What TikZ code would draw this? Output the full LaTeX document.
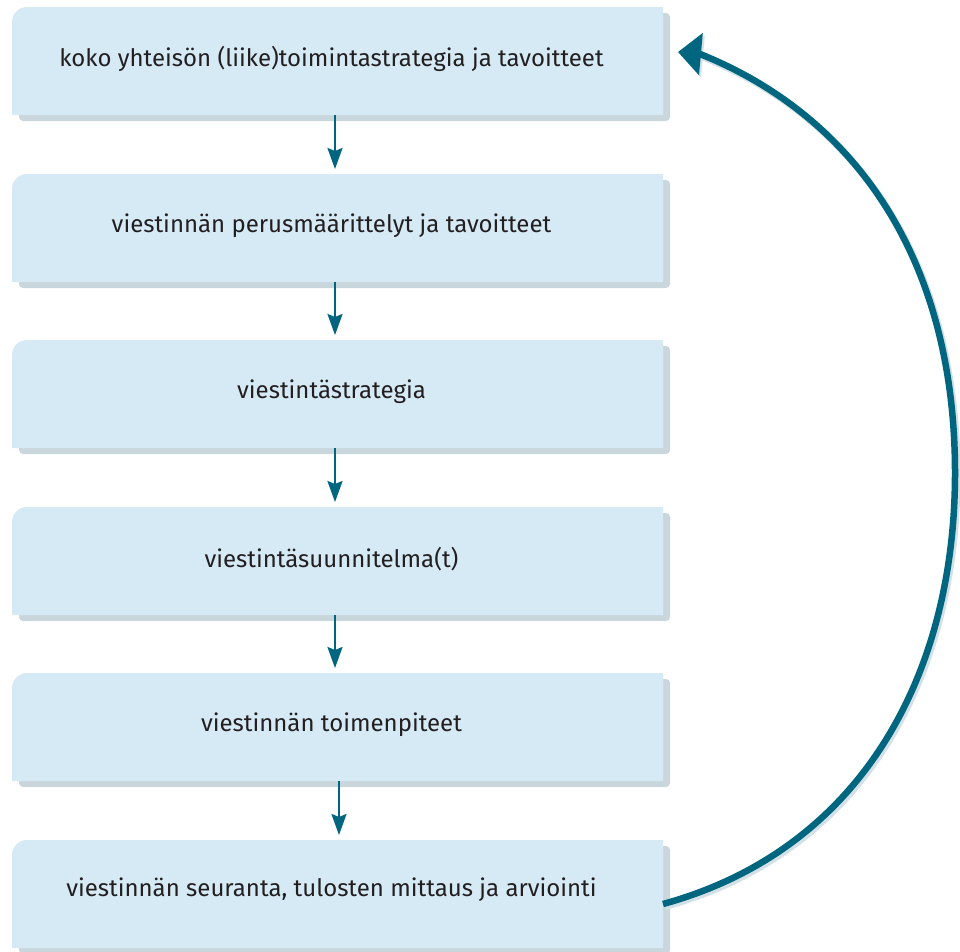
\documentclass[tikz,border=0pt]{standalone}
\usepackage{fontspec}
\setmainfont{Fira Sans}
\usetikzlibrary{arrows.meta}
\pgfdeclarelayer{background}
\pgfsetlayers{background,main}
\definecolor{boxblue}{HTML}{D5EAF5}
\definecolor{shadowgray}{HTML}{C9D7DD}
\definecolor{arcshadow}{HTML}{D3E0E5}
\definecolor{arrowteal}{HTML}{00667F}
\definecolor{txt}{HTML}{231F20}
\tikzset{
  stagebox/.style={draw=none, minimum width=651pt, minimum height=108pt, inner sep=0pt, outer sep=0pt},
  lbl/.style={font=\fontsize{24}{28}\selectfont, text=txt, inner sep=0pt},
  smallarrow/.style={draw=arrowteal, line width=2.3pt, -{Stealth[length=21pt,width=15pt,inset=3pt]}},
  bigarrow/.style={draw=arrowteal, line width=6.5pt, -{Triangle[length=23pt,width=41pt]}},
  bigshadow/.style={draw=arcshadow, line width=7pt, -{Triangle[length=23pt,width=41pt]}},
}
\begin{document}
\begin{tikzpicture}[x=1pt,y=1pt]
\useasboundingbox (0,0) rectangle (960,-951);
% boxes
\node[stagebox] (b1) at (337.5,-61) {};
\node[stagebox] (b2) at (337.5,-228) {};
\node[stagebox] (b3) at (337.5,-394) {};
\node[stagebox] (b4) at (337.5,-561) {};
\node[stagebox] (b5) at (337.5,-727) {};
\node[stagebox] (b6) at (337.5,-894) {};
% labels
\node[lbl] (t1) at ([xshift=-6pt,yshift=2pt]b1.center) {koko yhteisön (liike)toimintastrategia ja tavoitteet};
\node[lbl] (t2) at ([xshift=-6pt,yshift=2pt]b2.center) {viestinnän perusmäärittelyt ja tavoitteet};
\node[lbl] (t3) at ([xshift=-6pt,yshift=2pt]b3.center) {viestintästrategia};
\node[lbl] (t4) at ([xshift=-6pt,yshift=2pt]b4.center) {viestintäsuunnitelma(t)};
\node[lbl] (t5) at ([xshift=-6pt,yshift=2pt]b5.center) {viestinnän toimenpiteet};
\node[lbl] (t6) at ([xshift=-6pt,yshift=4pt]b6.center) {viestinnän seuranta, tulosten mittaus ja arviointi};
% fills and shadows
\begin{pgfonlayer}{background}
\foreach \b in {b1,b2,b3,b4,b5,b6}{
  \fill[shadowgray, rounded corners=4pt] ([xshift=7pt,yshift=-6pt]\b.south west) rectangle ([xshift=7pt,yshift=-6pt]\b.north east);
  \fill[boxblue] (\b.south west) -- ([yshift=-15pt]\b.north west) arc[start angle=180,end angle=90,radius=15pt] -- (\b.north east) -- (\b.south east) -- cycle;
}
\end{pgfonlayer}
% small arrows
\draw[smallarrow] ([xshift=-2.5pt]b1.south) -- ([xshift=-2.5pt,yshift=5pt]b2.north);
\draw[smallarrow] ([xshift=-2.5pt]b2.south) -- ([xshift=-2.5pt,yshift=5pt]b3.north);
\draw[smallarrow] ([xshift=-2.5pt]b3.south) -- ([xshift=-2.5pt,yshift=5pt]b4.north);
\draw[smallarrow] ([xshift=-2.5pt]b4.south) -- ([xshift=-2.5pt,yshift=5pt]b5.north);
\draw[smallarrow] ([xshift=1.5pt]b5.south) -- ([xshift=1.5pt,yshift=5pt]b6.north);
% feedback arc
\coordinate (tip) at ([xshift=15pt,yshift=9pt]b1.east);
\coordinate (start) at ([yshift=-10pt]b6.east);
\draw[bigshadow] ([xshift=2pt,yshift=-2.5pt]start) .. controls (865,-851.5) and (957,-675.5) .. (957,-475.5)
   .. controls (957,-255.5) and (852,-116.5) .. (702,-56.5) -- ([xshift=2pt,yshift=-2.5pt]tip);
\draw[bigarrow] (start) .. controls (863,-849) and (955,-673) .. (955,-473)
   .. controls (955,-253) and (850,-114) .. (700,-54) -- (tip);
\end{tikzpicture}
\end{document}
